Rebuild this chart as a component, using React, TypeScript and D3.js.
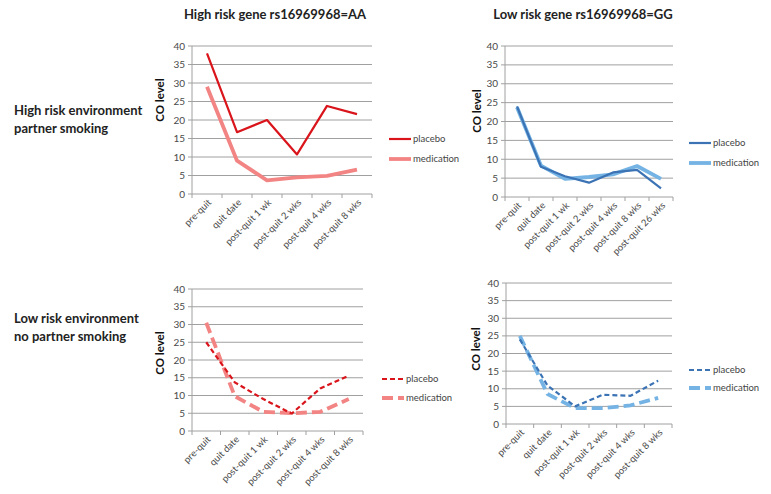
import React from "react";
import * as d3 from "d3";

const catsShort = ["pre-quit", "quit date", "post-quit 1 wk", "post-quit 2 wks", "post-quit 4 wks", "post-quit 8 wks"];
const catsLong = [...catsShort, "post-quit 26 wks"];
const yTicks = [0, 5, 10, 15, 20, 25, 30, 35, 40];

const hhPlacebo = [38, 16.7, 20, 10.7, 23.8, 21.6];
const hhMedication = [29, 9, 3.7, 4.5, 4.9, 6.6];
const hlPlacebo = [24, 8, 5.5, 3.8, 6.5, 7.2, 2.3];
const hlMedication = [23.8, 8.3, 4.8, 5.3, 6, 8.2, 4.8];
const lhPlacebo = [25, 13.7, 9, 4.9, 12, 15.6];
const lhMedication = [30.5, 9.8, 5.4, 5, 5.4, 9];
const llPlacebo = [24, 10.9, 5, 8.3, 8, 12.3];
const llMedication = [25, 8.5, 4.5, 4.5, 5.3, 7.4];

const colTitles = ["High risk gene rs16969968=AA", "Low risk gene rs16969968=GG"];
const rowTitles = [["High risk environment", "partner smoking"], ["Low risk environment", "no partner smoking"]];
const seriesNames = ["placebo", "medication"];

const FONT = "Lato, 'Open Sans', sans-serif";

type PanelProps = {
  x0: number; x1: number; yTop: number; yBot: number;
  cats: string[]; placebo: number[]; medication: number[];
  c1: string; c2: string; dashed: boolean;
  legX: number; legY1: number; legY2: number;
  labX: number; labY: number;
};

function Panel(p: PanelProps) {
  const xb = d3.scaleBand<string>().domain(p.cats).range([p.x0, p.x1]);
  const y = d3.scaleLinear().domain([0, 40]).range([p.yBot, p.yTop]);
  const line = d3.line<number>()
    .x((_, i) => (xb(p.cats[i]) as number) + xb.bandwidth() / 2)
    .y((v) => y(v));
  const w1 = 2.2, w2 = 3.8;
  const d1 = p.dashed ? "5,3" : undefined;
  const d2 = p.dashed ? "11,5" : undefined;
  const bounds = [...p.cats.map((c) => xb(c) as number), p.x1];
  return (
    <g>
      {yTicks.map((t) => (
        <g key={t}>
          {t > 0 && <line x1={p.x0} x2={p.x1} y1={y(t)} y2={y(t)} stroke="#a0a0a0" strokeWidth={1} />}
          <line x1={p.x0 - 4} x2={p.x0} y1={y(t)} y2={y(t)} stroke="#a0a0a0" strokeWidth={1} />
          <text x={p.x0 - 7} y={y(t)} dy="0.35em" textAnchor="end" fontSize={10} fill="#4a4a4a" fontFamily={FONT}>{t}</text>
        </g>
      ))}
      <line x1={p.x0} x2={p.x0} y1={p.yTop} y2={p.yBot} stroke="#a0a0a0" />
      <line x1={p.x0} x2={p.x1} y1={p.yBot} y2={p.yBot} stroke="#a0a0a0" />
      {bounds.map((b, i) => (
        <line key={i} x1={b} x2={b} y1={p.yBot} y2={p.yBot + 4} stroke="#a0a0a0" />
      ))}
      {p.cats.map((c) => {
        const cx = (xb(c) as number) + xb.bandwidth() / 2 + 5;
        const cy = p.yBot + 9;
        return (
          <text key={c} x={cx} y={cy} textAnchor="end" fontSize={9.5} fill="#4a4a4a" fontFamily={FONT}
            transform={`rotate(-45 ${cx} ${cy})`}>{c}</text>
        );
      })}
      <text x={p.labX} y={p.labY} textAnchor="middle" fontSize={11.5} fontWeight="bold" fill="#111" fontFamily={FONT}
        transform={`rotate(-90 ${p.labX} ${p.labY})`}>CO level</text>
      <path d={line(p.medication) || ""} fill="none" stroke={p.c2} strokeWidth={w2} strokeDasharray={d2} strokeLinejoin="round" />
      <path d={line(p.placebo) || ""} fill="none" stroke={p.c1} strokeWidth={w1} strokeDasharray={d1} strokeLinejoin="round" />
      <line x1={p.legX} x2={p.legX + 22} y1={p.legY1} y2={p.legY1} stroke={p.c1} strokeWidth={w1} strokeDasharray={d1} />
      <text x={p.legX + 24} y={p.legY1} dy="0.35em" fontSize={9.5} fill="#444" fontFamily={FONT}>{seriesNames[0]}</text>
      <line x1={p.legX} x2={p.legX + 22} y1={p.legY2} y2={p.legY2} stroke={p.c2} strokeWidth={w2} strokeDasharray={d2} />
      <text x={p.legX + 24} y={p.legY2} dy="0.35em" fontSize={9.5} fill="#444" fontFamily={FONT}>{seriesNames[1]}</text>
    </g>
  );
}

export default function App() {
  const red = "#d9141b", pink = "#f38484", blue = "#3b73b5", lblue = "#74b3e3";
  return (
    <svg width={771} height={494} style={{ position: "absolute", left: 0, top: 0, background: "#fff" }}>
      <text x={275} y={14} dy="0.35em" textAnchor="middle" fontSize={13} fontWeight="bold" fill="#222" fontFamily={FONT}>{colTitles[0]}</text>
      <text x={583} y={14} dy="0.35em" textAnchor="middle" fontSize={13} fontWeight="bold" fill="#222" fontFamily={FONT}>{colTitles[1]}</text>
      {rowTitles.map((r, i) => (
        <g key={i}>
          <text x={14} y={i === 0 ? 110 : 318} dy="0.35em" fontSize={13} fontWeight="bold" fill="#222" fontFamily={FONT}>{r[0]}</text>
          <text x={14} y={i === 0 ? 128 : 336} dy="0.35em" fontSize={13} fontWeight="bold" fill="#222" fontFamily={FONT}>{r[1]}</text>
        </g>
      ))}
      <Panel x0={192} x1={372} yTop={46} yBot={194} cats={catsShort} placebo={hhPlacebo} medication={hhMedication}
        c1={red} c2={pink} dashed={false} legX={389} legY1={139} legY2={159} labX={164} labY={100} />
      <Panel x0={505} x1={673} yTop={46} yBot={197} cats={catsLong} placebo={hlPlacebo} medication={hlMedication}
        c1={blue} c2={lblue} dashed={false} legX={689} legY1={143} legY2={163} labX={481} labY={111} />
      <Panel x0={192} x1={363} yTop={289} yBot={431} cats={catsShort} placebo={lhPlacebo} medication={lhMedication}
        c1={red} c2={pink} dashed={true} legX={382} legY1={379} legY2={398} labX={164} labY={353} />
      <Panel x0={506} x1={672} yTop={283} yBot={424} cats={catsShort} placebo={llPlacebo} medication={llMedication}
        c1={blue} c2={lblue} dashed={true} legX={689} legY1={370} legY2={388} labX={480} labY={349} />
    </svg>
  );
}
